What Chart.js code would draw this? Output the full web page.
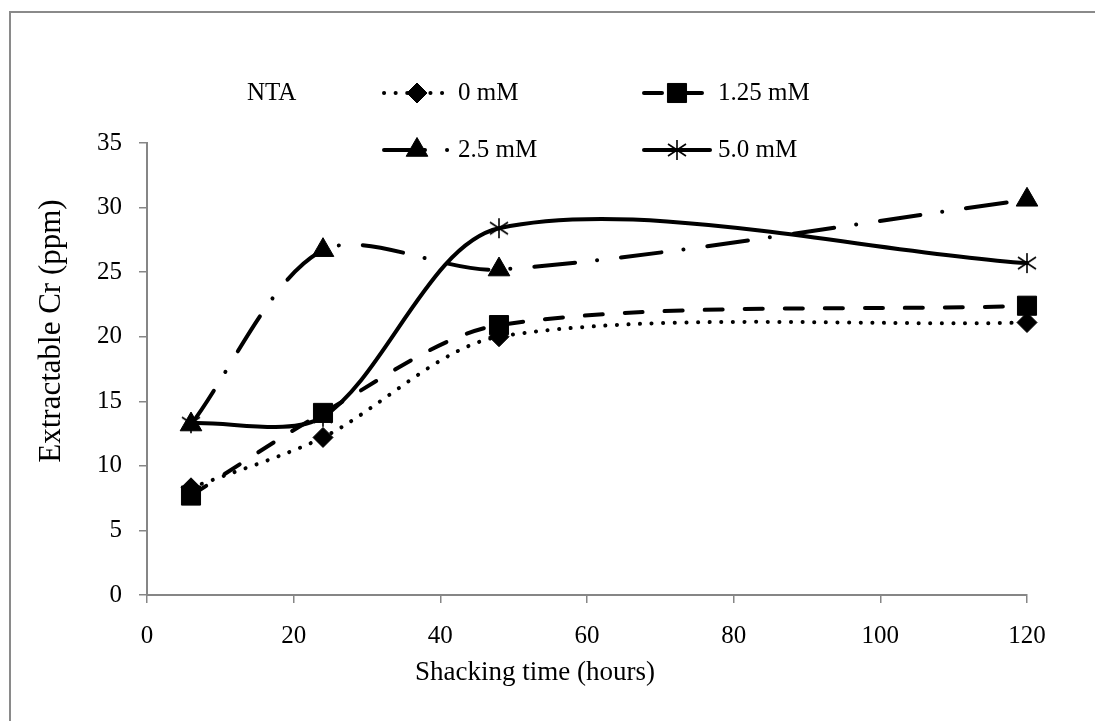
<!DOCTYPE html>
<html>
<head>
<meta charset="utf-8">
<title>Extractable Cr vs shacking time</title>
<script src="https://cdn.jsdelivr.net/npm/chart.js@4.4.1/dist/chart.umd.min.js"></script>
<style>
  html, body { margin: 0; padding: 0; background: #fff; overflow: hidden; }
  #wrap { position: relative; width: 1095px; height: 721px; }
  #frame { position: absolute; left: 9px; top: 11px; width: 1200px; height: 800px; border: 2px solid #8a8a8a; }
  #chart { position: absolute; left: 0; top: 0; }
</style>
</head>
<body>
<div id="wrap">
  <div id="frame"></div>
  <canvas id="chart" width="1095" height="721"></canvas>
</div>
<script>
"use strict";

// data
var hours = [6, 24, 48, 120];
var cr0 = [8.3, 12.2, 20.0, 21.1];
var cr125 = [7.7, 14.1, 20.9, 22.4];
var cr25 = [13.2, 26.7, 25.2, 30.6];
var cr50 = [13.3, 13.8, 28.4, 25.7];

var seriesNames = ['0 mM', '1.25 mM', '2.5 mM', '5.0 mM'];
var legendTitle = 'NTA';
var xTickValues = [0, 20, 40, 60, 80, 100, 120];
var yTickValues = [0, 5, 10, 15, 20, 25, 30, 35];
var xTitle = 'Shacking time (hours)';
var yTitle = 'Extractable Cr (ppm)';

var serif = '"Liberation Serif", "Times New Roman", serif';
var axisGrey = '#868686';

// excel style asterisk marker (X plus vertical bar)
var makeStar = function() {
  var c = document.createElement('canvas');
  c.width = 22;
  c.height = 22;
  var g = c.getContext('2d');
  g.strokeStyle = '#000';
  g.lineWidth = 1.6;
  g.beginPath();
  g.moveTo(11, 1); g.lineTo(11, 21);
  g.moveTo(2, 5); g.lineTo(20, 17);
  g.moveTo(2, 17); g.lineTo(20, 5);
  g.stroke();
  return c;
};

var toPoints = function(ys) {
  return hours.map(function(h, i) { return {x: h, y: ys[i]}; });
};

var series = function(i, ys, dash, style, radius, order) {
  return {
    label: seriesNames[i],
    data: toPoints(ys),
    borderColor: '#000',
    backgroundColor: '#000',
    borderWidth: 4,
    borderDash: dash,
    borderCapStyle: 'round',
    borderJoinStyle: 'round',
    tension: 0.3,
    pointStyle: style,
    pointRadius: radius,
    pointBackgroundColor: '#000',
    pointBorderColor: '#000',
    pointBorderWidth: 1,
    clip: false,
    order: order
  };
};

// legend and axis titles drawn in the positions used by the figure
var legendSlots = [[382, 93], [642, 93], [382, 150], [642, 150]];

var overlayPlugin = {
  id: 'overlay',
  afterDraw: function(chart) {
    var ctx = chart.ctx;
    ctx.save();
    ctx.fillStyle = '#000';
    ctx.font = '25px ' + serif;
    ctx.textBaseline = 'middle';
    ctx.textAlign = 'left';
    ctx.fillText(legendTitle, 247, 93);

    chart.data.datasets.forEach(function(ds, i) {
      var x = legendSlots[i][0], y = legendSlots[i][1];
      ctx.save();
      ctx.strokeStyle = ds.borderColor;
      ctx.lineWidth = ds.borderWidth;
      ctx.lineCap = 'round';
      ctx.setLineDash(ds.borderDash || []);
      ctx.beginPath();
      ctx.moveTo(x + 2, y);
      ctx.lineTo(x + 68, y);
      ctx.stroke();
      ctx.restore();

      ctx.save();
      ctx.fillStyle = ds.pointBackgroundColor;
      ctx.strokeStyle = ds.pointBorderColor;
      ctx.lineWidth = ds.pointBorderWidth;
      Chart.helpers.drawPoint(ctx, {
        pointStyle: ds.pointStyle,
        radius: ds.pointRadius,
        rotation: 0,
        borderWidth: ds.pointBorderWidth
      }, x + 35, y);
      ctx.restore();

      ctx.fillText(ds.label, x + 76, y);
    });

    ctx.font = '27px ' + serif;
    ctx.textAlign = 'center';
    ctx.fillText(xTitle, 535, 673);

    ctx.translate(52, 331);
    ctx.rotate(-Math.PI / 2);
    ctx.font = '31px ' + serif;
    ctx.fillText(yTitle, 0, 0);
    ctx.restore();
  }
};

var star = makeStar();

new Chart(document.getElementById('chart'), {
  type: 'line',
  data: {
    datasets: [
      series(0, cr0, [0.1, 11.5], 'rectRot', 10, 4),
      series(1, cr125, [18, 22], 'rect', 13.5, 3),
      series(2, cr25, [41, 22, 0.1, 24], 'triangle', 12.5, 1),
      series(3, cr50, [], star, 11, 2)
    ]
  },
  options: {
    responsive: false,
    devicePixelRatio: 1,
    animation: false,
    layout: {
      padding: {left: 0, top: 143, right: 68, bottom: 0}
    },
    plugins: {
      legend: {display: false},
      tooltip: {enabled: false},
      title: {display: false}
    },
    scales: {
      x: {
        type: 'linear',
        min: 0,
        max: 120,
        afterBuildTicks: function(scale) {
          scale.ticks = xTickValues.map(function(v) { return {value: v}; });
        },
        afterFit: function(scale) { scale.height = 126; },
        grid: {
          drawOnChartArea: false,
          drawTicks: true,
          tickLength: 8,
          color: axisGrey,
          lineWidth: 1.5
        },
        border: {color: axisGrey, width: 2},
        ticks: {
          color: '#000',
          padding: 18,
          maxRotation: 0,
          font: {family: serif, size: 25}
        }
      },
      y: {
        type: 'linear',
        min: 0,
        max: 35,
        afterBuildTicks: function(scale) {
          scale.ticks = yTickValues.map(function(v) { return {value: v}; });
        },
        afterFit: function(scale) { scale.width = 147; },
        grid: {
          drawOnChartArea: false,
          drawTicks: true,
          tickLength: 8,
          color: axisGrey,
          lineWidth: 1.5
        },
        border: {color: axisGrey, width: 2},
        ticks: {
          color: '#000',
          padding: 17,
          font: {family: serif, size: 25}
        }
      }
    }
  },
  plugins: [overlayPlugin]
});
</script>
</body>
</html>
